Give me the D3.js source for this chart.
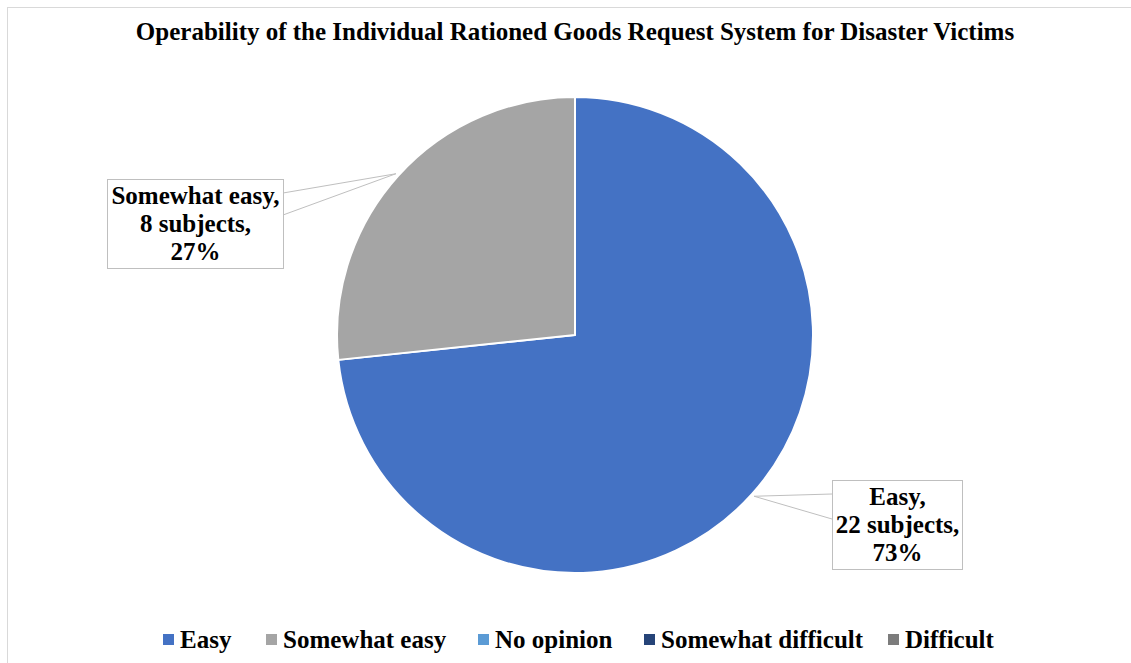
<!DOCTYPE html>
<html>
<head>
<meta charset="utf-8">
<script src="https://cdn.jsdelivr.net/npm/d3@7"></script>
<style>
  html, body { margin: 0; padding: 0; background: #fff; }
  svg { display: block; }
  text { font-family: "Liberation Serif", "Times New Roman", serif; font-weight: bold; fill: #000; }
</style>
</head>
<body>
<svg id="chart" width="1131" height="663"></svg>
<script>
// Survey responses on how easy the request system was to operate
const categories = ["Easy", "Somewhat easy", "No opinion", "Somewhat difficult", "Difficult"];
const subjects = [22, 8, 0, 0, 0];
const percentLabels = ["73%", "27%", "0%", "0%", "0%"];
const colors = ["#4472C4", "#A5A5A5", "#5B9BD5", "#264478", "#7C7C7C"];
const title = "Operability of the Individual Rationed Goods Request System for Disaster Victims";

const svg = d3.select("#chart");
const W = 1131, H = 663;

// outer chart-area border
svg.append("rect")
  .attr("x", 7.5).attr("y", 7.5)
  .attr("width", W + 20).attr("height", H + 20)
  .attr("fill", "#fff").attr("stroke", "#d9d9d9").attr("stroke-width", 1);

svg.append("text")
  .attr("x", 575).attr("y", 40)
  .attr("text-anchor", "middle")
  .attr("font-size", 25)
  .text(title);

const cx = 575, cy = 335, R = 238;
const data = categories.map((c, i) => ({ name: c, value: subjects[i], pct: percentLabels[i], color: colors[i] }));

const pie = d3.pie().sort(null).value(d => d.value);
const arcs = pie(data);
const arc = d3.arc().innerRadius(0).outerRadius(R);

const g = svg.append("g").attr("transform", `translate(${cx},${cy})`);
g.selectAll("path")
  .data(arcs.filter(a => a.data.value > 0))
  .join("path")
  .attr("d", arc)
  .attr("fill", d => d.data.color)
  .attr("stroke", "#fff")
  .attr("stroke-width", 2)
  .attr("stroke-linejoin", "round");

// callout boxes for the non-empty slices
const boxes = {
  "Easy":          { x: 832, y: 480, w: 130, h: 89, side: "left",  y1: 494, y2: 519 },
  "Somewhat easy": { x: 107, y: 179, w: 176, h: 89, side: "right", y1: 193, y2: 215 }
};

arcs.filter(a => a.data.value > 0).forEach(a => {
  const b = boxes[a.data.name];
  const mid = (a.startAngle + a.endAngle) / 2;
  const r0 = R + 3;
  const ax = cx + r0 * Math.sin(mid), ay = cy - r0 * Math.cos(mid);
  const ex = b.side === "left" ? b.x : b.x + b.w;

  svg.append("path")
    .attr("d", `M${ex},${b.y1}L${ax},${ay}L${ex},${b.y2}`)
    .attr("fill", "#fff")
    .attr("stroke", "#bfbfbf")
    .attr("stroke-width", 1);

  svg.append("rect")
    .attr("x", b.x + 0.5).attr("y", b.y + 0.5)
    .attr("width", b.w).attr("height", b.h)
    .attr("fill", "#fff")
    .attr("stroke", "#bfbfbf").attr("stroke-width", 1);

  const lines = [a.data.name + ",", a.data.value + " subjects,", a.data.pct];
  const t = svg.append("text")
    .attr("text-anchor", "middle")
    .attr("font-size", 25);
  lines.forEach((l, i) => {
    t.append("tspan")
      .attr("x", b.x + b.w / 2 + 0.5)
      .attr("y", b.y + 25 + i * 28)
      .text(l);
  });
});

// legend
const legendX = [163, 266, 478, 644, 888];
const lg = svg.append("g");
data.forEach((d, i) => {
  lg.append("rect")
    .attr("x", legendX[i]).attr("y", 634)
    .attr("width", 11).attr("height", 11)
    .attr("fill", d.color);
  lg.append("text")
    .attr("x", legendX[i] + 17).attr("y", 648)
    .attr("font-size", 25)
    .text(d.name);
});
</script>
</body>
</html>
